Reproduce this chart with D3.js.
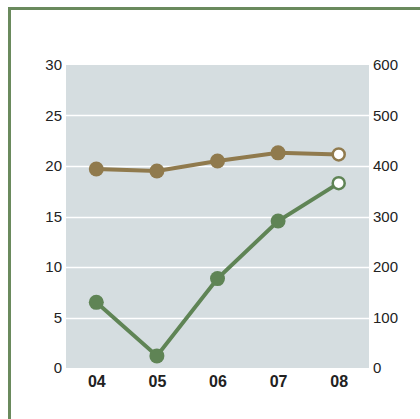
<!DOCTYPE html>
<html lang="en">
<head>
    <meta charset="UTF-8">
    <title>Dual axis line chart</title>
    <style>
        body { margin: 0; background: #fff; }
        .axis .domain, .axis line { display: none; }
        .tick text { font-family: "Liberation Sans", Arial, sans-serif; }
    </style>
</head>
<body>
    <svg width="420" height="419"></svg>
    <script src="https://d3js.org/d3.v7.min.js"></script>
    <script>
        // data
        var years = ["04", "05", "06", "07", "08"];
        var brownVals = [19.7, 19.5, 20.5, 21.3, 21.15];   // left axis
        var greenVals = [130, 24, 177, 291, 366];           // right axis
        var leftTicks = [0, 5, 10, 15, 20, 25, 30];
        var rightTicks = [0, 100, 200, 300, 400, 500, 600];

        var svg = d3.select("svg"),
            margin = {top: 65, right: 51, bottom: 51, left: 66},
            width = +svg.attr("width") - margin.left - margin.right,
            height = +svg.attr("height") - margin.top - margin.bottom;

        // frame: top and left rule only
        svg.append("line").attr("x1", 8).attr("x2", 420).attr("y1", 8.5).attr("y2", 8.5)
            .attr("stroke", "#6a8a5d").attr("stroke-width", 3);
        svg.append("line").attr("x1", 9.5).attr("x2", 9.5).attr("y1", 7).attr("y2", 419)
            .attr("stroke", "#6a8a5d").attr("stroke-width", 3);

        var g = svg.append("g").attr("transform", "translate(" + margin.left + "," + margin.top + ")");

        var x = d3.scalePoint().domain(years).range([0, width]).padding(0.5);
        var yL = d3.scaleLinear().domain([0, 30]).range([height, 0]);
        var yR = d3.scaleLinear().domain([0, 600]).range([height, 0]);

        g.append("rect").attr("width", width).attr("height", height).attr("fill", "#d5dde0");

        g.append("g").selectAll("line")
            .data(leftTicks.filter(function(d){ return d > 0 && d < 30; }))
            .enter().append("line")
            .attr("x1", 0).attr("x2", width)
            .attr("y1", function(d){ return Math.round(yL(d)) + 0.5; })
            .attr("y2", function(d){ return Math.round(yL(d)) + 0.5; })
            .attr("stroke", "#fff").attr("stroke-width", 1.5);

        g.append("g").attr("class", "axis")
            .call(d3.axisLeft(yL).tickValues(leftTicks).tickSize(0).tickPadding(4))
            .selectAll("text").attr("font-size", 15).attr("fill", "#222");

        g.append("g").attr("class", "axis")
            .attr("transform", "translate(" + width + ",0)")
            .call(d3.axisRight(yR).tickValues(rightTicks).tickSize(0).tickPadding(4))
            .selectAll("text").attr("font-size", 15).attr("fill", "#222");

        g.append("g").attr("class", "axis")
            .attr("transform", "translate(0," + height + ")")
            .call(d3.axisBottom(x).tickSize(0).tickPadding(8))
            .selectAll("text")
            .attr("font-size", 16).attr("font-weight", "bold").attr("fill", "#222");

        function series(vals, yScale, color) {
            var pts = vals.map(function(v, i){ return {year: years[i], v: v, last: i === vals.length - 1}; });
            var line = d3.line()
                .x(function(d){ return x(d.year); })
                .y(function(d){ return yScale(d.v); });
            g.append("path").datum(pts)
                .attr("d", line)
                .attr("fill", "none")
                .attr("stroke", color)
                .attr("stroke-width", 4);
            g.append("g").selectAll("circle")
                .data(pts)
                .enter().append("circle")
                .attr("cx", function(d){ return x(d.year); })
                .attr("cy", function(d){ return yScale(d.v); })
                .attr("r", function(d){ return d.last ? 6 : 7.5; })
                .attr("fill", function(d){ return d.last ? "#fff" : color; })
                .attr("stroke", color)
                .attr("stroke-width", function(d){ return d.last ? 2.5 : 0; });
        }

        series(brownVals, yL, "#907a4d");
        series(greenVals, yR, "#5f8455");
    </script>
</body>
</html>
